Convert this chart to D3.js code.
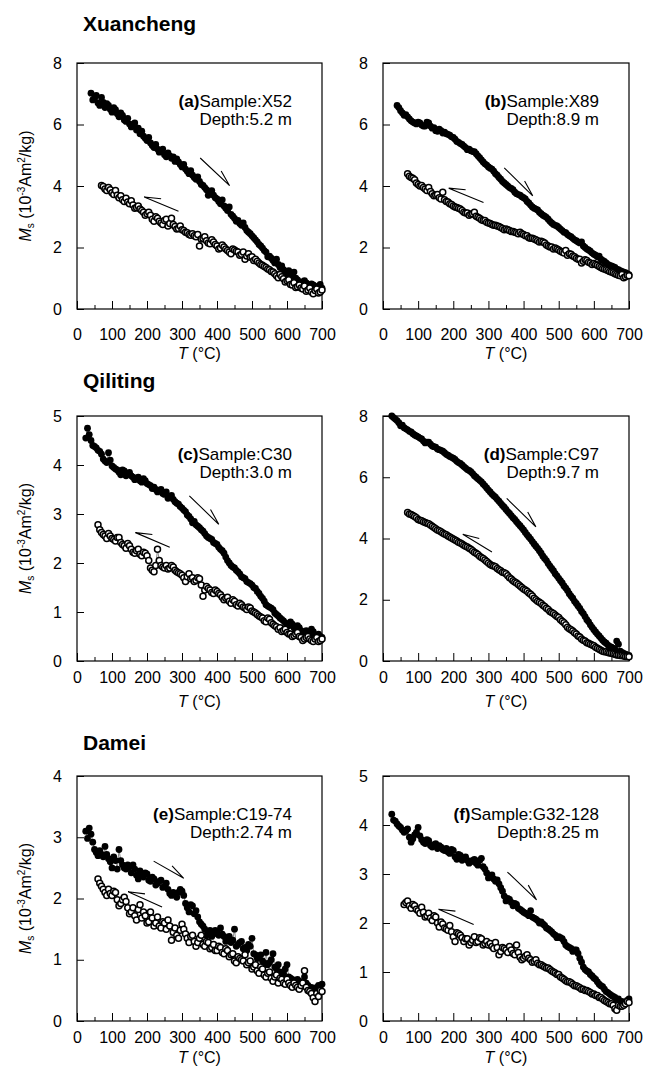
<!DOCTYPE html>
<html lang="en">
<head>
<meta charset="UTF-8">
<title>Ms-T curves: Xuancheng, Qiliting, Damei</title>
<script src="https://d3js.org/d3.v7.min.js"></script>
<style>
  body { margin: 0; background: #fff; }
  svg { display: block; font-family: "Liberation Sans", Arial, Helvetica, sans-serif; }
</style>
</head>
<body>
<div id="chart"></div>
<script>
// temperature grids (°C); readings every 10 °C plus the in-between readings
const tempHeatA = [40,50,60,70,80,90,100,110,120,130,140,150,160,170,180,190,200,210,220,230,240,250,260,270,280,290,300,310,320,330,340,350,360,370,380,390,400,410,420,430,440,450,460,470,480,490,500,510,520,530,540,550,560,570,580,590,600,610,620,630,640,650,660,670,680,690,700];
const tempHeatC = [25,30,40,50,60,70,80,90,100,110,120,130,140,150,160,170,180,190,200,210,220,230,240,250,260,270,280,290,300,310,320,330,340,350,360,370,380,390,400,410,420,430,440,450,460,470,480,490,500,510,520,530,540,550,560,570,580,590,600,610,620,630,640,650,660,670,680,690,700];
const tempCoolA = [70,80,90,100,110,120,130,140,150,160,170,180,190,200,210,220,230,240,250,260,270,280,290,300,310,320,330,340,350,360,370,380,390,400,410,420,430,440,450,460,470,480,490,500,510,520,530,540,550,560,570,580,590,600,610,620,630,640,650,660,670,680,690,700];
const tempCoolC = [60,70,80,90,100,110,120,130,140,150,160,170,180,190,200,210,220,230,240,250,260,270,280,290,300,310,320,330,340,350,360,370,380,390,400,410,420,430,440,450,460,470,480,490,500,510,520,530,540,550,560,570,580,590,600,610,620,630,640,650,660,670,680,690,700];
const tempHeatMidA = [45,55,65,75,85,95,105,115,125,135,145,155,165,175,185,195,205,215,225,235,245,255,265,275,285,295,305,315,325,335,345,355,365,375,385,395,405,415,425,435,445,455,465,475,485,495,505,515,525,535,545,555,565,575,585,595,605,615,625,635,645,655,665,675,685,695];
const tempHeatMidC = [35,45,55,65,75,85,95,105,115,125,135,145,155,165,175,185,195,205,215,225,235,245,255,265,275,285,295,305,315,325,335,345,355,365,375,385,395,405,415,425,435,445,455,465,475,485,495,505,515,525,535,545,555,565,575,585,595,605,615,625,635,645,655,665,675,685,695];
const tempCoolMidA = [75,85,95,105,115,125,135,145,155,165,175,185,195,205,215,225,235,245,255,265,275,285,295,305,315,325,335,345,355,365,375,385,395,405,415,425,435,445,455,465,475,485,495,505,515,525,535,545,555,565,575,585,595,605,615,625,635,645,655,665,675,685,695];
const tempCoolMidC = [65,75,85,95,105,115,125,135,145,155,165,175,185,195,205,215,225,235,245,255,265,275,285,295,305,315,325,335,345,355,365,375,385,395,405,415,425,435,445,455,465,475,485,495,505,515,525,535,545,555,565,575,585,595,605,615,625,635,645,655,665,675,685,695];

// Ms (10^-3 Am2/kg): heating (filled) and cooling (open)
const heatA = [7.02,6.85,6.70,6.88,6.55,6.62,6.40,6.48,6.25,6.30,
  6.10,6.02,5.95,5.82,5.70,5.62,5.48,5.40,5.25,5.20,
  5.12,5.02,5.08,4.90,4.80,4.78,4.62,4.55,4.40,4.35,
  4.22,4.15,4.02,3.88,3.80,3.70,3.58,3.42,3.35,3.20,
  3.08,2.95,2.88,2.72,2.65,2.50,2.38,2.25,2.10,1.98,
  1.85,1.72,1.58,1.62,1.35,1.28,1.15,1.05,1.20,0.95,
  0.88,0.92,0.78,0.82,0.70,0.75,0.68];
const heatAMid = [6.80,6.95,6.62,6.72,6.68,6.50,6.55,6.35,6.38,6.15,
  6.20,5.92,6.05,5.88,5.78,5.55,5.58,5.32,5.35,5.10,
  5.20,4.95,4.98,4.95,4.88,4.70,4.70,4.48,4.50,4.28,
  4.30,4.05,3.95,3.70,3.85,3.62,3.50,3.55,3.28,3.32,
  3.02,2.85,2.78,2.80,2.55,2.45,2.32,2.18,2.05,1.90,
  1.70,1.65,1.50,1.45,1.40,1.20,1.25,1.10,1.00,0.85,
  0.80,0.85,0.72,0.78,0.62,0.80];
const coolA = [4.02,3.90,3.95,3.78,3.85,3.62,3.55,3.60,3.42,3.38,
  3.30,3.25,3.15,3.10,3.05,2.85,2.95,2.80,2.88,2.70,
  2.95,2.68,2.62,2.58,2.50,2.42,2.45,2.35,2.05,2.30,
  2.22,2.12,2.18,2.05,1.98,2.02,1.90,1.80,1.92,1.85,
  1.78,1.62,1.80,1.70,1.62,1.50,1.42,1.35,1.28,1.20,
  1.08,1.12,0.98,0.92,0.80,0.85,0.72,0.68,0.75,0.62,
  0.55,0.60,0.52,0.62];
const coolAMid = [3.98,3.85,3.88,3.72,3.70,3.68,3.50,3.48,3.52,3.28,
  3.35,3.20,3.05,3.15,2.92,3.00,2.85,2.75,2.92,2.78,
  2.75,2.60,2.70,2.55,2.48,2.40,2.38,2.42,2.28,2.35,
  2.15,2.25,2.10,1.95,2.08,1.95,1.85,1.95,1.88,1.75,
  1.85,1.72,1.68,1.58,1.55,1.45,1.38,1.30,1.22,1.15,
  1.02,1.05,0.88,0.95,0.78,0.70,0.78,0.65,0.58,0.68,
  0.50,0.65,0.55];
const heatB = [6.62,6.45,6.30,6.25,6.12,6.05,6.08,5.98,5.95,6.05,
  5.88,5.80,5.85,5.72,5.70,5.65,5.58,5.45,5.38,5.30,
  5.18,5.15,5.12,4.98,4.85,4.72,4.62,4.55,4.40,4.28,
  4.15,4.05,3.95,3.88,3.75,3.70,3.62,3.50,3.38,3.28,
  3.22,3.10,3.02,2.92,2.80,2.72,2.65,2.55,2.48,2.38,
  2.30,2.22,2.15,2.05,1.95,1.88,1.78,1.70,1.62,1.55,
  1.45,1.40,1.35,1.28,1.22,1.18,1.12];
const heatBMid = [6.55,6.38,6.32,6.18,6.08,6.02,6.05,5.95,6.08,5.95,
  5.90,5.78,5.80,5.75,5.68,5.60,5.52,5.42,5.35,5.25,
  5.20,5.12,5.05,4.92,4.78,4.68,4.58,4.48,4.35,4.22,
  4.10,4.00,3.92,3.80,3.72,3.65,3.58,3.45,3.32,3.25,
  3.15,3.05,2.98,2.85,2.75,2.70,2.60,2.50,2.42,2.35,
  2.25,2.18,2.18,2.00,1.92,1.82,1.75,1.72,1.58,1.50,
  1.42,1.38,1.30,1.25,1.20,1.15];
const coolB = [4.40,4.28,4.20,4.05,4.02,3.90,3.95,3.75,3.70,3.62,
  3.80,3.50,3.42,3.35,3.30,3.25,3.15,3.12,3.08,3.15,
  2.98,2.90,2.88,2.80,2.75,2.72,2.68,2.62,2.60,2.55,
  2.52,2.48,2.50,2.42,2.38,2.30,2.28,2.22,2.20,2.15,
  2.05,2.02,1.98,1.92,1.85,1.90,1.80,1.72,1.65,1.62,
  1.55,1.58,1.50,1.48,1.42,1.35,1.30,1.25,1.20,1.15,
  1.10,1.12,1.05,1.08];
const coolBMid = [4.32,4.25,4.10,4.00,3.95,3.85,3.82,3.68,3.72,3.58,
  3.55,3.48,3.40,3.32,3.28,3.20,3.12,3.05,3.10,3.02,
  2.95,2.88,2.82,2.78,2.72,2.70,2.65,2.58,2.58,2.52,
  2.50,2.45,2.45,2.38,2.32,2.30,2.25,2.18,2.18,2.08,
  2.02,1.95,1.95,1.88,1.82,1.75,1.78,1.70,1.62,1.50,
  1.60,1.52,1.45,1.45,1.38,1.32,1.28,1.22,1.18,1.12,
  1.08,1.02,1.10];
const heatC = [4.55,4.75,
  4.50,4.38,4.30,4.22,4.08,4.25,3.98,3.92,3.85,3.90,
  3.78,3.85,3.75,3.72,3.68,3.72,3.62,3.58,3.55,3.45,
  3.50,3.40,3.32,3.38,3.25,3.20,3.12,3.05,2.95,2.82,
  2.78,2.72,2.65,2.55,2.50,2.42,2.38,2.28,2.20,2.05,
  1.95,1.90,1.82,1.72,1.68,1.60,1.55,1.48,1.38,1.28,
  1.15,1.10,1.05,0.95,0.88,0.82,0.75,0.80,0.68,0.72,
  0.62,0.60,0.55,0.65,0.50,0.55,0.48];
const heatCMid = [4.62,
  4.40,4.35,4.28,4.12,4.05,4.10,3.95,3.90,3.80,3.88,
  3.82,3.78,3.70,3.75,3.65,3.68,3.60,3.52,3.50,3.48,
  3.42,3.45,3.35,3.30,3.22,3.15,3.08,2.98,2.90,2.85,
  2.75,2.68,2.60,2.52,2.48,2.40,2.32,2.25,2.12,2.00,
  1.92,1.85,1.78,1.70,1.62,1.58,1.50,1.42,1.32,1.22,
  1.12,1.08,0.98,0.92,0.85,0.78,0.72,0.75,0.65,0.68,
  0.58,0.62,0.52,0.60,0.45,0.50];
const coolC = [2.78,2.62,2.55,2.60,2.50,2.45,2.52,2.38,2.30,2.35,
  2.22,2.25,2.18,2.22,2.15,1.90,1.82,2.28,1.95,1.90,
  1.88,1.95,1.85,1.80,1.75,1.62,1.78,1.70,1.65,1.68,
  1.32,1.52,1.45,1.38,1.42,1.35,1.25,1.30,1.18,1.22,
  1.12,1.15,1.08,1.10,1.02,0.98,0.92,0.88,0.80,0.85,
  0.75,0.70,0.68,0.62,0.58,0.55,0.52,0.58,0.48,0.45,
  0.50,0.42,0.45,0.40,0.45];
const coolCMid = [2.68,2.58,2.50,2.55,2.48,2.52,2.42,2.35,2.40,2.28,
  2.20,2.28,2.15,2.20,2.05,1.85,1.95,2.05,1.92,1.95,
  1.90,1.92,1.82,1.78,1.70,1.72,1.68,1.62,1.70,1.55,
  1.45,1.48,1.40,1.45,1.38,1.30,1.28,1.22,1.25,1.15,
  1.18,1.10,1.05,1.08,1.00,0.95,0.90,0.82,0.88,0.78,
  0.72,0.65,0.60,0.65,0.55,0.50,0.55,0.50,0.42,0.48,
  0.45,0.40,0.48,0.42];
const heatD = [8.00,7.95,
  7.85,7.68,7.62,7.55,7.48,7.38,7.32,7.25,7.12,7.15,
  7.02,6.98,6.90,6.85,6.75,6.68,6.62,6.52,6.45,6.35,
  6.25,6.18,6.05,5.95,5.85,5.72,5.58,5.45,5.35,5.22,
  5.08,4.95,4.82,4.68,4.55,4.42,4.28,4.12,3.98,3.82,
  3.68,3.52,3.35,3.18,3.02,2.85,2.70,2.55,2.38,2.20,
  2.05,1.88,1.72,1.55,1.35,1.18,1.02,0.88,0.75,0.62,
  0.52,0.45,0.38,0.55,0.28,0.22,0.18];
const heatDMid = [7.90,
  7.78,7.70,7.58,7.50,7.42,7.35,7.28,7.18,7.15,7.08,
  7.00,6.92,6.88,6.80,6.72,6.65,6.58,6.48,6.40,6.30,
  6.22,6.12,6.00,5.90,5.78,5.65,5.52,5.40,5.28,5.15,
  5.02,4.88,4.75,4.62,4.48,4.35,4.20,4.05,3.90,3.75,
  3.60,3.42,3.28,3.10,2.95,2.78,2.62,2.45,2.30,2.12,
  1.95,1.80,1.62,1.45,1.28,1.10,0.95,0.82,0.68,0.58,
  0.48,0.42,0.65,0.32,0.25,0.20];
const coolD = [4.85,4.78,4.72,4.62,4.58,4.52,4.48,4.40,4.32,4.25,
  4.18,4.12,4.05,3.98,3.92,3.85,3.78,3.72,3.65,3.55,
  3.48,3.38,3.30,3.20,3.12,3.08,2.98,2.90,2.85,2.72,
  2.62,2.55,2.45,2.35,2.28,2.18,2.05,1.95,1.88,1.78,
  1.68,1.58,1.50,1.42,1.30,1.18,1.05,0.98,0.88,0.78,
  0.68,0.60,0.55,0.50,0.42,0.35,0.30,0.28,0.25,0.22,
  0.20,0.18,0.15,0.14];
const coolDMid = [4.80,4.75,4.68,4.60,4.55,4.50,4.44,4.36,4.28,4.22,
  4.15,4.08,4.02,3.95,3.88,3.82,3.75,3.68,3.60,3.52,
  3.42,3.35,3.25,3.15,3.10,3.02,2.95,2.88,2.78,2.68,
  2.58,2.50,2.40,2.32,2.22,2.12,2.00,1.92,1.82,1.72,
  1.62,1.55,1.45,1.35,1.25,1.10,1.02,0.92,0.82,0.72,
  0.65,0.58,0.52,0.45,0.38,0.32,0.30,0.26,0.24,0.20,
  0.18,0.16,0.15];
const heatE = [3.10,2.98,
  3.05,2.80,2.70,2.72,2.85,2.65,2.50,2.62,2.80,2.55,
  2.48,2.52,2.55,2.38,2.45,2.35,2.40,2.28,2.32,2.25,
  2.30,2.20,2.15,2.05,2.08,2.10,2.12,1.92,1.78,1.88,
  1.80,1.62,1.55,1.40,1.48,1.42,1.45,1.52,1.38,1.35,
  1.28,1.50,1.25,1.30,1.20,1.25,1.35,1.08,1.05,0.98,
  1.12,0.95,1.10,0.85,0.80,0.78,0.92,0.70,0.65,0.68,
  0.62,0.72,0.58,0.55,0.50,0.58,0.60];
const heatEMid = [3.15,
  2.92,2.75,2.78,2.68,2.72,2.60,2.68,2.48,2.62,2.50,
  2.55,2.42,2.48,2.32,2.38,2.42,2.30,2.35,2.22,2.28,
  2.18,2.25,2.08,2.10,2.02,2.15,2.05,1.85,1.90,1.75,
  1.70,1.58,1.50,1.45,1.38,1.48,1.40,1.42,1.30,1.38,
  1.32,1.22,1.28,1.18,1.15,1.22,1.10,1.02,1.08,0.95,
  0.92,1.00,0.88,0.92,0.75,0.85,0.72,0.68,0.62,0.65,
  0.58,0.62,0.52,0.48,0.55,0.52];
const coolE = [2.32,2.20,2.10,2.15,2.05,2.10,1.88,1.98,1.95,1.75,
  1.85,1.65,1.90,1.78,1.60,1.78,1.55,1.70,1.52,1.60,
  1.65,1.32,1.52,1.35,1.58,1.42,1.28,1.40,1.22,1.35,
  1.25,1.30,1.18,1.25,1.15,1.20,1.10,1.15,1.08,0.98,
  1.05,1.00,1.08,0.95,0.85,0.92,0.78,0.85,0.72,0.80,
  0.65,0.75,0.70,0.62,0.68,0.58,0.62,0.55,0.58,0.82,
  0.50,0.45,0.32,0.40,0.48];
const coolEMid = [2.25,2.15,2.05,2.08,2.12,1.98,1.92,2.02,1.85,1.78,
  1.72,1.82,1.68,1.72,1.62,1.68,1.60,1.55,1.62,1.50,
  1.55,1.45,1.40,1.48,1.50,1.35,1.38,1.30,1.28,1.40,
  1.22,1.28,1.20,1.15,1.22,1.12,1.18,1.05,1.10,0.95,
  1.02,0.98,0.92,0.98,0.88,0.82,0.88,0.75,0.78,0.70,
  0.72,0.62,0.68,0.60,0.62,0.55,0.58,0.52,0.62,0.55,
  0.48,0.38,0.45,0.50];
const heatF = [4.22,4.10,
  4.02,3.95,3.85,3.92,3.65,3.80,3.95,3.70,3.62,3.68,
  3.55,3.62,3.58,3.50,3.52,3.42,3.48,3.30,3.38,3.32,
  3.28,3.25,3.30,3.18,3.32,3.10,2.92,2.98,2.85,2.80,
  2.65,2.45,2.48,2.35,2.38,2.28,2.22,2.18,2.25,2.10,
  2.05,2.02,1.95,1.88,1.82,1.75,1.72,1.68,1.55,1.50,
  1.42,1.45,1.28,1.10,1.02,0.95,0.88,0.80,0.72,0.65,
  0.58,0.52,0.48,0.45,0.40,0.38,0.45];
const heatFMid = [4.08,
  3.98,3.90,3.88,3.75,3.72,3.85,3.78,3.65,3.70,3.58,
  3.60,3.52,3.55,3.48,3.45,3.50,3.35,3.40,3.28,3.35,
  3.22,3.28,3.22,3.28,3.15,3.02,2.95,2.90,2.88,2.72,
  2.55,2.50,2.42,2.40,2.30,2.25,2.20,2.15,2.12,2.08,
  2.00,1.98,1.90,1.85,1.78,1.70,1.70,1.62,1.52,1.48,
  1.45,1.38,1.20,1.05,1.00,0.92,0.85,0.75,0.70,0.60,
  0.55,0.50,0.42,0.38,0.35,0.42];
const coolF = [2.38,2.45,2.30,2.35,2.25,2.32,2.12,2.20,2.05,2.12,
  1.92,1.98,1.88,1.95,1.72,1.80,1.75,1.62,1.68,1.60,
  1.72,1.62,1.68,1.58,1.55,1.52,1.60,1.35,1.50,1.45,
  1.52,1.38,1.55,1.30,1.28,1.35,1.25,1.22,1.18,1.15,
  1.10,1.08,1.02,0.98,0.95,0.88,0.82,0.80,0.75,0.72,
  0.68,0.65,0.62,0.58,0.55,0.52,0.48,0.42,0.38,0.35,
  0.25,0.32,0.30,0.35,0.38];
const coolFMid = [2.42,2.35,2.38,2.28,2.20,2.22,2.15,2.10,2.15,2.00,
  2.02,1.90,1.85,1.82,1.62,1.78,1.70,1.68,1.55,1.65,
  1.60,1.70,1.55,1.62,1.58,1.48,1.50,1.42,1.48,1.40,
  1.45,1.35,1.40,1.25,1.32,1.28,1.20,1.25,1.15,1.12,
  1.08,1.05,1.00,0.95,0.90,0.85,0.80,0.78,0.72,0.70,
  0.65,0.62,0.60,0.55,0.52,0.48,0.45,0.40,0.35,0.32,
  0.22,0.30,0.32,0.40];

const siteNames = ["Xuancheng", "Qiliting", "Damei"];
const panelLetters = ["a", "b", "c", "d", "e", "f"];
const sampleNames = ["X52", "X89", "C30", "C97", "C19-74", "G32-128"];
const depthLabels = ["5.2 m", "8.9 m", "3.0 m", "9.7 m", "2.74 m", "8.25 m"];
const yMaxes = [8, 8, 5, 8, 4, 5];
const yTickSets = [[0,2,4,6,8], [0,2,4,6,8], [0,1,2,3,4,5], [0,2,4,6,8], [0,1,2,3,4], [0,1,2,3,4,5]];
const xTicks = [0, 100, 200, 300, 400, 500, 600, 700];
const xMinorTicks = [50, 150, 250, 350, 450, 550, 650];

// arrow positions in data units: [T0, M0, T1, M1], tip at (T1, M1)
const heatArrows = [[352,4.91,436,4.01],[345,4.59,426,3.68],[321,3.37,405,2.79],[352,5.31,435,4.38],[219,2.61,305,2.33],[354,3.04,437,2.47]];
const coolArrows = [[290,3.18,192,3.64],[286,3.46,187,3.93],[265,2.32,167,2.62],[310,3.56,227,4.14],[243,1.86,146,2.11],[258,1.97,158,2.28]];

function merge(t1, v1, t2, v2) {
  return d3.sort(d3.zip(t1, v1).concat(d3.zip(t2, v2)), d => d[0]);
}

const series = [
  {heat: merge(tempHeatA, heatA, tempHeatMidA, heatAMid), cool: merge(tempCoolA, coolA, tempCoolMidA, coolAMid)},
  {heat: merge(tempHeatA, heatB, tempHeatMidA, heatBMid), cool: merge(tempCoolA, coolB, tempCoolMidA, coolBMid)},
  {heat: merge(tempHeatC, heatC, tempHeatMidC, heatCMid), cool: merge(tempCoolC, coolC, tempCoolMidC, coolCMid)},
  {heat: merge(tempHeatC, heatD, tempHeatMidC, heatDMid), cool: merge(tempCoolA, coolD, tempCoolMidA, coolDMid)},
  {heat: merge(tempHeatC, heatE, tempHeatMidC, heatEMid), cool: merge(tempCoolC, coolE, tempCoolMidC, coolEMid)},
  {heat: merge(tempHeatC, heatF, tempHeatMidC, heatFMid), cool: merge(tempCoolC, coolF, tempCoolMidC, coolFMid)}
];

// layout
const width = 653, height = 1076;
const cols = [{left: 77, right: 322}, {left: 383, right: 629}];
const rows = [
  {top: 63, bottom: 309, title: 31, tickPad: 20, xTitle: 359},
  {top: 416, bottom: 661, title: 388, tickPad: 11, xTitle: 707},
  {top: 776, bottom: 1021, title: 750, tickPad: 11, xTitle: 1063}
];

const svg = d3.select("#chart").append("svg")
    .attr("width", width)
    .attr("height", height);

rows.forEach((r, i) => {
  svg.append("text")
      .attr("x", 83).attr("y", r.title)
      .style("font-size", "21px").style("font-weight", "bold")
      .text(siteNames[i]);
});

function drawArrow(g, x, y, a) {
  const x0 = x(a[0]), y0 = y(a[1]), x1 = x(a[2]), y1 = y(a[3]);
  const back = Math.atan2(y0 - y1, x0 - x1);
  const len = 17, off = 17 * Math.PI / 180;
  const c1 = [x1 + len * Math.cos(back + off), y1 + len * Math.sin(back + off)];
  const c2 = [x1 + len * Math.cos(back - off), y1 + len * Math.sin(back - off)];
  const barb = c1[1] < c2[1] ? c1 : c2;   // half head on the upper side
  g.append("path")
      .attr("d", `M${x0},${y0}L${x1},${y1}L${barb[0]},${barb[1]}`)
      .attr("fill", "none")
      .attr("stroke", "#000")
      .attr("stroke-width", 1.1);
}

series.forEach((s, i) => {
  const col = cols[i % 2], row = rows[Math.floor(i / 2)];
  const x = d3.scaleLinear().domain([0, 700]).range([col.left, col.right]);
  const y = d3.scaleLinear().domain([0, yMaxes[i]]).range([row.bottom, row.top]);
  const g = svg.append("g");

  // axes, ticks pointing inward
  g.append("g")
      .attr("transform", `translate(0,${row.bottom})`)
      .call(d3.axisBottom(x).tickValues(xTicks).tickSizeInner(-8).tickSizeOuter(0).tickPadding(row.tickPad))
      .call(ax => ax.select(".domain").remove())
      .call(ax => ax.selectAll("text").style("font-size", "16px").attr("fill", "#000").style("font-family", null));
  g.append("g")
      .attr("transform", `translate(0,${row.bottom})`)
      .call(d3.axisBottom(x).tickValues(xMinorTicks).tickSizeInner(-4).tickSizeOuter(0).tickFormat(""))
      .call(ax => ax.select(".domain").remove());
  g.append("g")
      .attr("transform", `translate(${col.left},0)`)
      .call(d3.axisLeft(y).tickValues(yTickSets[i]).tickSizeInner(-7).tickSizeOuter(0).tickPadding(15).tickFormat(d3.format("d")))
      .call(ax => ax.select(".domain").remove())
      .call(ax => ax.selectAll("text").style("font-size", "16px").attr("fill", "#000").style("font-family", null));

  g.append("rect")
      .attr("x", col.left).attr("y", row.top)
      .attr("width", col.right - col.left).attr("height", row.bottom - row.top)
      .attr("fill", "none").attr("stroke", "#000").attr("stroke-width", 1.2);

  const line = d3.line().x(d => x(d[0])).y(d => y(d[1]));
  [s.heat, s.cool].forEach(pts => {
    g.append("path").datum(pts)
        .attr("d", line)
        .attr("fill", "none").attr("stroke", "#555").attr("stroke-width", 0.7);
  });
  g.append("g").selectAll("circle").data(s.heat).join("circle")
      .attr("cx", d => x(d[0])).attr("cy", d => y(d[1])).attr("r", 3.4)
      .attr("fill", "#000");
  g.append("g").selectAll("circle").data(s.cool).join("circle")
      .attr("cx", d => x(d[0])).attr("cy", d => y(d[1])).attr("r", 3.0)
      .attr("fill", "#fff").attr("stroke", "#000").attr("stroke-width", 1.5);

  drawArrow(g, x, y, heatArrows[i]);
  drawArrow(g, x, y, coolArrows[i]);

  // sample annotation
  const ann = g.append("text")
      .attr("x", col.right - 30).attr("y", row.top + 44)
      .attr("text-anchor", "end").style("font-size", "17px");
  ann.append("tspan").style("font-weight", "bold").text(`(${panelLetters[i]})`);
  ann.append("tspan").text(`Sample:${sampleNames[i]}`);
  g.append("text")
      .attr("x", col.right - 30).attr("y", row.top + 62)
      .attr("text-anchor", "end").style("font-size", "17px")
      .text(`Depth:${depthLabels[i]}`);

  // x title
  const xt = g.append("text")
      .attr("x", (col.left + col.right) / 2).attr("y", row.xTitle)
      .attr("text-anchor", "middle").style("font-size", "16px");
  xt.append("tspan").style("font-style", "italic").text("T");
  xt.append("tspan").text(" (°C)");

  // y title, left column only
  if (i % 2 === 0) {
    const yt = g.append("text")
        .attr("transform", `translate(31,${(row.top + row.bottom) / 2}) rotate(-90)`)
        .attr("text-anchor", "middle").style("font-size", "16px");
    yt.append("tspan").style("font-style", "italic").text("M");
    yt.append("tspan").attr("dy", 3).style("font-size", "10px").text("s");
    yt.append("tspan").attr("dy", -3).text(" (10");
    yt.append("tspan").attr("dy", -6).style("font-size", "10px").text("-3");
    yt.append("tspan").attr("dy", 6).text("Am");
    yt.append("tspan").attr("dy", -6).style("font-size", "10px").text("2");
    yt.append("tspan").attr("dy", 6).text("/kg)");
  }
});
</script>
</body>
</html>
